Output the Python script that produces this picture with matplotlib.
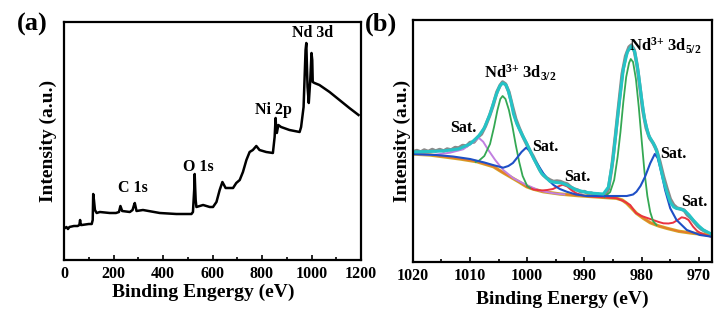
import matplotlib
matplotlib.use("Agg")
import matplotlib.pyplot as plt
from matplotlib.ticker import MultipleLocator

plt.rcParams['font.family'] = ['Liberation Serif', 'DejaVu Serif']
plt.rcParams['font.weight'] = 'bold'
plt.rcParams['mathtext.fontset'] = 'custom'
plt.rcParams['mathtext.rm'] = 'Liberation Serif:bold'
plt.rcParams['mathtext.bf'] = 'Liberation Serif:bold'
plt.rcParams['mathtext.it'] = 'Liberation Serif:bold:italic'
plt.rcParams['mathtext.default'] = 'rm'

# ---------------- Panel (a): survey spectrum ----------------
survey_ev = [4, 10, 16, 22, 40, 55, 62, 65, 68, 72, 100, 112, 116, 118, 121, 125, 132, 145,
             185, 210, 222, 228, 235, 266, 277, 283, 286, 293, 319, 387, 454, 515, 521,
             526, 528, 530, 532, 535, 562, 589, 602, 616, 629, 640, 653, 683, 696, 710,
             723, 737, 750, 763, 777, 790, 817, 844, 851, 855, 858, 860, 866, 877, 911,
             952, 958, 968, 976, 979, 982, 984, 989, 995, 1000, 1003, 1005, 1012, 1032,
             1073, 1113, 1153, 1190]
survey_int = [32, 33, 31, 33, 34, 34, 35, 40, 35, 35, 36, 36, 40, 66, 60, 50, 47, 48,
              47, 47, 48, 54, 49, 48, 50, 55, 57, 49, 50, 47, 46, 46, 48,
              70, 86, 72, 60, 53, 55, 53, 53, 58, 70, 78, 72, 72, 77, 80,
              88, 100, 108, 110, 114, 110, 108, 107, 123, 142, 128, 127, 135, 133, 130,
              128, 133, 153, 210, 217, 190, 173, 157, 180, 207, 200, 178, 177, 175,
              168, 160, 152, 145]
survey_labels = ["C 1s", "O 1s", "Ni 2p", "Nd 3d"]
survey_label_ev = [279, 541, 846, 1006]
survey_label_int = [72, 93, 150, 227]

# ---------------- Panel (b): Nd 3d high resolution ----------------
raw_ev = [1020, 1019.3, 1018.6, 1018, 1017.3, 1016.6, 1016, 1015.3, 1014.6, 1014, 1013.3,
          1012.6, 1012, 1011.3, 1010.6, 1010, 1009.3, 1008.6, 1008, 1007.3, 1006.6, 1006,
          1005.3, 1004.7, 1004.3, 1003.8, 1003.2, 1002.6, 1002, 1001.4, 1000.8, 1000.2,
          999.6, 999, 998.4, 997.8, 997.2, 996.6, 996, 995.4, 994.8, 994.2, 993.6, 993,
          992.4, 991.8, 991.2, 990.6, 990, 989.4, 988.8, 988.2, 987.6, 987, 986.4, 985.8,
          985.2, 984.6, 984, 983.4, 982.8, 982.2, 981.8, 981.3, 980.8, 980.3, 979.8, 979.2,
          978.6, 978, 977.4, 976.8, 976.2, 975.6, 975, 974.4, 973.8, 973.2, 972.6, 972,
          971.4, 970.8, 970.2, 969.6, 969, 968.4, 967.7]
raw_int = [110, 111.5, 110, 112, 110.5, 112.5, 111, 112.5, 111, 113, 112,
           114.5, 114, 116.5, 116, 119.5, 120, 125, 128, 136, 146, 156,
           170, 177, 180, 178, 170, 156, 143, 134, 126, 119,
           112, 106, 99, 92, 87, 84, 82, 80.5, 81, 80.5, 79, 78,
           75, 73, 72, 70, 70.5, 68.5, 69, 67, 68, 66, 67, 73,
           95, 125, 157, 188, 206, 215, 217, 212, 197, 175, 152, 134,
           124, 119, 112, 100, 86, 74, 63, 57, 54, 53, 52, 47,
           44, 40, 36, 33, 31, 29, 27]

env_ev = [1020, 1017, 1014.7, 1012, 1010, 1008.5, 1007.5, 1006.5, 1005.5, 1004.8, 1004.3,
          1003.7, 1003.3, 1002.8, 1002.4, 1001.8, 1001.3, 1000.6, 1000.1, 998.9, 997.5,
          996.0, 995, 994.0, 993.1, 991.4, 989.5, 988.4, 986.7, 985.8, 985.0, 984.1, 983.2,
          982.5, 981.8, 981.2, 980.6, 980.0, 979.5, 978.8, 978.2, 977.7, 977.2, 976.8,
          976.2, 975.6, 975.0, 974.4, 973.9, 973.2, 972.4, 971.7, 971.0, 970.0, 969.2,
          968.0, 967.7]
env_int = [110, 110.5, 111, 113, 118, 126, 134, 148, 166, 176, 179,
           177, 171, 160, 148, 138, 132, 124, 118.7, 103.7, 88.7,
           80.5, 79.5, 79, 77, 72, 69.5, 68.7, 68, 75, 103, 150, 193,
           210, 216, 210, 190, 163, 143, 127, 121, 116, 108, 97,
           82, 70, 60, 55, 53.5, 53, 51, 47, 42, 36, 32,
           28.5, 27.5]

bg_ev = [1020, 1017, 1014.7, 1011.7, 1008.8, 1005.9, 1004.5, 1003.0, 1001.5, 1000.1,
         999.0, 997.2, 994.3, 991.0, 988.4, 984.4, 983.4, 982.6, 981.7, 980.9, 979.7,
         978.5, 977.0, 975.6, 973.5, 971.0, 968.0, 967.7]
bg_int = [108, 107, 105.3, 103, 100.3, 95.3, 90.3, 85.3, 80.3, 75.3,
          73, 70.3, 68, 66.3, 65.3, 63.7, 62, 58.7, 53.5, 48.7, 43.7,
          39.3, 36, 33.7, 30.7, 28.7, 27, 26.8]

green_ev = [1009.0, 1008.5, 1007.5, 1006.5, 1005.8, 1005.2, 1004.7, 1004.3, 1003.8,
            1003.2, 1002.6, 1002.0, 1001.4, 1000.8, 1000.0, 999.5,
            None,
            986.5, 985.5, 984.8, 984.2, 983.7, 983.2, 982.7, 982.2, 981.9, 981.5,
            981.0, 980.5, 980.0, 979.5, 979.0, 978.5, 978.0, 977.4]
green_int = [100, 101, 106, 118, 135, 152, 163, 166, 163,
             152, 136, 117, 100, 86, 76, 74,
             None,
             65, 70, 82, 105, 130, 160, 185, 199, 203, 200,
             183, 155, 122, 90, 66, 50, 41, 37]

blue_ev = [1020, 1016, 1013, 1010, 1007.5, 1006, 1005, 1004.2, 1003.3, 1002.5, 1001.8,
           1001, 1000.2, 999.5, 998.9, 998, 997.2, 996.3, 995.4, 994.3, 993.1, 991.5,
           989.6, 988, 986.7, 984.5, 982.6, 981.5, 980.9, 980.2, 979.4, 978.5, 977.7,
           977.2, 976.8, 976.3, 975.9, 975.0, 973.9, 972.1, 969.8, 968.0, 967.7]
blue_int = [108, 107, 105.5, 103, 99.5, 97, 95.5, 94.3, 96, 99, 104,
            110, 114.3, 111, 104, 96, 88.7, 82, 77, 73, 70.3, 67.5,
            66, 66, 66, 66, 66, 67.5, 70.3, 76, 85.3, 98.7, 108,
            104, 95.3, 83, 72, 53.7, 42, 32, 27, 25.5, 25.3]

purple_ev = [1020, 1016.4, 1013.5, 1011.2, 1009.7, 1008.5, 1007.7, 1006.8, 1005.6,
             1004.2, 1002.4, 1000.1, 997.8, 995.4, 993.5]
purple_int = [108, 107, 109.3, 112.7, 118.7, 124.3, 120.3, 112, 102,
              92, 83.7, 77, 71.3, 68.7, 67.5]

red_ev = [1000.0, 998.9, 997.5, 996.5, 995.5, 994.6, 993.8, 993.0, 992.2, 991.4, 990.0,
          988.0, 986.0, 984.4, 983.0, 982.0, 981.0, 980.0, 979.0, 978.0, 977.0, 976.2,
          975.3, 974.5, 973.7, 973.0, 972.4, 971.8, 971.0, 970.3, 969.8, 968.9, 968.0,
          967.7]
red_int = [75.5, 72.5, 71.5, 72, 73, 75.5, 77.3, 75.5, 71.5, 68.7, 66,
           65.2, 64.5, 63.8, 60.5, 57, 49, 46, 44, 42, 40, 38.7,
           38.5, 39.3, 42, 44.7, 44, 42, 35.3, 31, 29.3, 27, 25.5,
           25.3]

peak_labels = ["Nd$^{3{+}}$ 3d$_{3/2}$", "Nd$^{3{+}}$ 3d$_{5/2}$"]
peak_label_ev = [1001.3, 975.9]
peak_label_int = [189, 216]
sat_label_ev = [1011.2, 996.9, 991.2, 974.4, 970.75]
sat_label_int = [134, 115, 85, 108, 60]

# ---------------- Figure ----------------
fig = plt.figure(figsize=(7.15, 3.2), dpi=100)
ax1 = fig.add_axes([64 / 715, 1 - 260 / 320, (361 - 64) / 715, (260 - 22) / 320])
ax2 = fig.add_axes([412.8 / 715, 1 - 262 / 320, (712 - 412.8) / 715, (262 - 20) / 320])

for ax in (ax1, ax2):
    for s in ax.spines.values():
        s.set_linewidth(1.6)
    ax.tick_params(axis='x', direction='in', which='both', top=False, labelsize=11.5,
                   width=1.2, pad=4)
    ax.tick_params(axis='x', which='major', length=3.5)
    ax.tick_params(axis='x', which='minor', length=2)
    ax.set_yticks([])

# Panel a
ax1.plot(survey_ev, survey_int, color='black', lw=1.8)
ax1.set_xlim(0, 1200)
ax1.set_ylim(0, 238)
ax1.xaxis.set_major_locator(MultipleLocator(200))
ax1.xaxis.set_minor_locator(MultipleLocator(100))
for t, x, y in zip(survey_labels, survey_label_ev, survey_label_int):
    ax1.text(x, y, t, ha='center', va='center', fontsize=11.5, fontweight='bold')
ax1.set_xlabel("Binding Engergy (eV)", fontsize=14, fontweight='bold')
ax1.xaxis.set_label_coords(0.47, -0.1)
ax1.set_ylabel("Intensity (a.u.)", fontsize=14, fontweight='bold', labelpad=5)
fig.text(17 / 715, 1 - 24 / 320, "(a)", fontsize=19, fontweight='bold', va='center')

# Panel b
ax2.plot(raw_ev, raw_int, color='#8a8a8a', lw=2.5)
ax2.plot(bg_ev, bg_int, color='#d2a628', lw=2.4)
ax2.plot(bg_ev, bg_int, color='#e8782a', lw=1.1)
ax2.plot(purple_ev, purple_int, color='#c17fe0', lw=1.4)
ax2.plot(red_ev, red_int, color='#ea3340', lw=1.4)
ax2.plot(green_ev, green_int, color='#34a853', lw=1.3)
ax2.plot(blue_ev, blue_int, color='#1f4fc6', lw=1.5)
ax2.plot(env_ev, env_int, color='#25c3c6', lw=2.2)
ax2.set_xlim(1020, 967.7)
ax2.set_ylim(0, 242)
ax2.xaxis.set_major_locator(MultipleLocator(10))
ax2.xaxis.set_minor_locator(MultipleLocator(5))
for t, x, y in zip(peak_labels, peak_label_ev, peak_label_int):
    ax2.text(x, y, t, ha='center', va='center', fontsize=12, fontweight='bold')
for x, y in zip(sat_label_ev, sat_label_int):
    ax2.text(x, y, "Sat.", ha='center', va='center', fontsize=11.5, fontweight='bold')
ax2.set_xlabel("Binding Energy (eV)", fontsize=14, fontweight='bold')
ax2.xaxis.set_label_coords(0.5, -0.12)
ax2.set_ylabel("Intensity (a.u.)", fontsize=14, fontweight='bold', labelpad=1)
fig.text(365 / 715, 1 - 24 / 320, "(b)", fontsize=19, fontweight='bold', va='center')

fig.savefig("out.png", dpi=100)
